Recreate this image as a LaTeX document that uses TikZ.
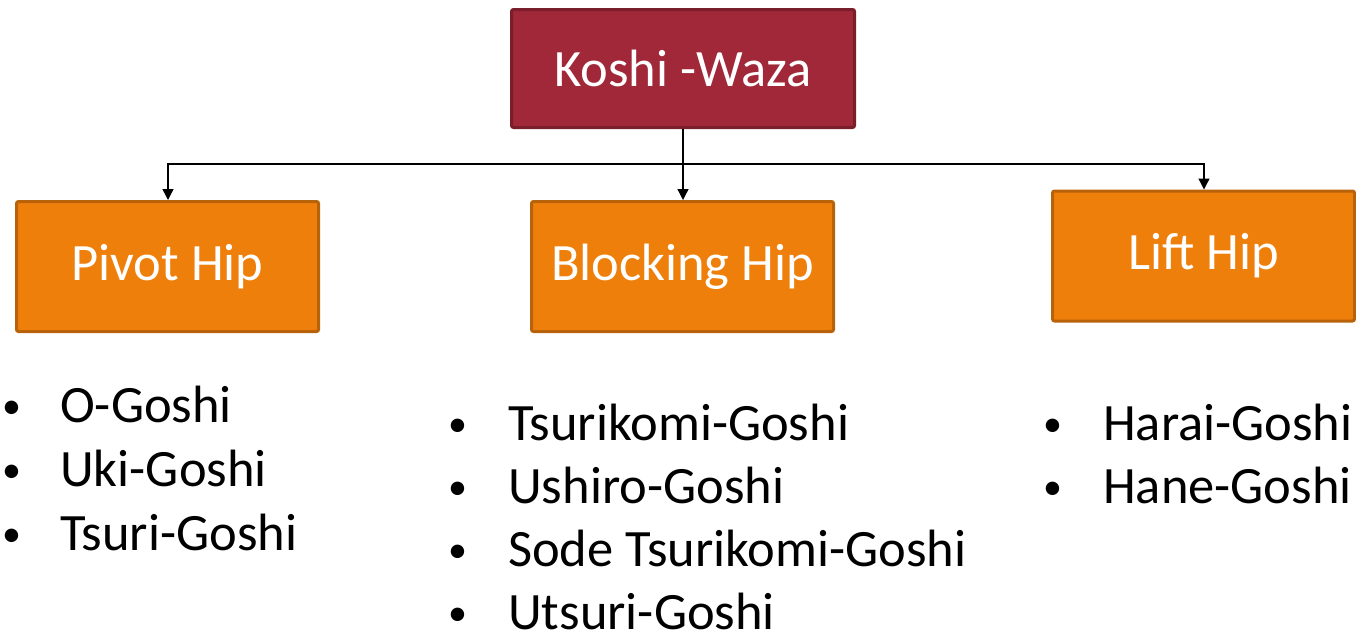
\documentclass[tikz,border=0pt]{standalone}
\usepackage{fontspec}
\setmainfont{Carlito}
\usetikzlibrary{arrows.meta}
\definecolor{topfill}{HTML}{A02838}
\definecolor{topline}{HTML}{7A1E2B}
\definecolor{catfill}{HTML}{EF7F0B}
\definecolor{catline}{HTML}{B8620A}
\tikzset{
  topbox/.style={draw=topline, fill=topfill, line width=3pt, rounded corners=2pt,
    minimum width=343pt, minimum height=118pt, text=white, inner sep=0pt,
    font=\fontsize{52.5}{63}\selectfont},
  catbox/.style={draw=catline, fill=catfill, line width=3pt, rounded corners=2pt,
    minimum width=302pt, minimum height=130pt, text=white, inner sep=0pt,
    font=\fontsize{52.5}{63}\selectfont},
  conn/.style={line width=1.3pt, -{Triangle[length=11pt,width=11pt]}},
  item/.style={anchor=base west, inner sep=0pt, font=\fontsize{52.5}{63}\selectfont},
  dot/.style={anchor=base west, inner sep=0pt, yshift=4pt, font=\fontsize{38}{40}\selectfont},
}
\begin{document}
\begin{tikzpicture}[x=1pt,y=-1pt]
\useasboundingbox (0,0) rectangle (1356,638);
\node[topbox] (koshi) at (683,68.5) {Koshi -Waza};
\node[catbox] (pivot) at (167.5,266.5) {Pivot Hip};
\node[catbox] (block) at (682.5,266.5) {Blocking Hip};
\node[catbox] (lift) at (1203.5,256) {Lift Hip};
\coordinate (bus) at (683,164);
\draw[line width=1.3pt] (koshi.south) -- (bus);
\draw[conn] (bus) -| ([xshift=0.5pt]pivot.north);
\draw[conn] (bus) -- (block.north -| bus);
\draw[conn] (bus) -| ([xshift=0.5pt]lift.north);
% Pivot list
\node[dot] (b1) at (2,422) {•};
\node[item] (p1) at (60,422) {O-Goshi};
\node[dot] (b2) at (2,486) {•};
\node[item] (p2) at (60,486) {Uki-Goshi};
\node[dot] (b3) at (2,550) {•};
\node[item] (p3) at (60,550) {Tsuri-Goshi};
% Blocking list
\node[dot] (b4) at (448,440) {•};
\node[item] (k1) at (508,440) {Tsurikomi-Goshi};
\node[dot] (b5) at (448,503) {•};
\node[item] (k2) at (508,503) {Ushiro-Goshi};
\node[dot] (b6) at (448,566) {•};
\node[item] (k3) at (508,566) {Sode Tsurikomi-Goshi};
\node[dot] (b7) at (448,629) {•};
\node[item] (k4) at (508,629) {Utsuri-Goshi};
% Lift list
\node[dot] (b8) at (1043,440) {•};
\node[item] (l1) at (1103,440) {Harai-Goshi};
\node[dot] (b9) at (1043,503) {•};
\node[item] (l2) at (1103,503) {Hane-Goshi};
\end{tikzpicture}
\end{document}
